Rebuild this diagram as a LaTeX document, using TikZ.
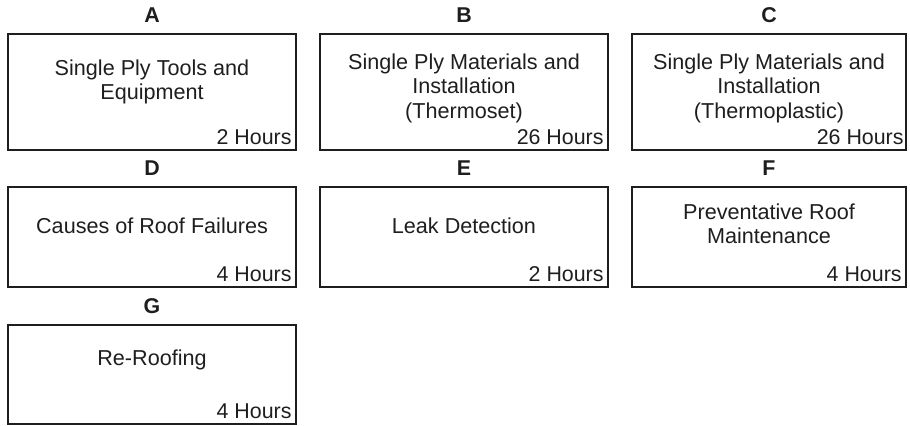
\documentclass[tikz,border=0pt]{standalone}
\usepackage{fontspec}
\setmainfont{Liberation Sans}
\usetikzlibrary{positioning}
\definecolor{inkgray}{HTML}{1E1E1E}

\begin{document}
\begin{tikzpicture}[
    x=0.5pt, y=-0.5pt,
    course/.style={
        rectangle, draw=inkgray, line width=1pt,
        minimum width=144pt, inner sep=0pt,
        anchor=north west
    },
    letter/.style={font=\fontsize{10.7}{12}\selectfont\bfseries, text=inkgray, inner sep=0pt},
    topic/.style={font=\fontsize{10.8}{12.25}\selectfont, text=inkgray, align=center, inner sep=0pt},
    hours/.style={font=\fontsize{10.7}{12}\selectfont, text=inkgray, inner sep=0pt, anchor=south east},
]
\useasboundingbox (0,0) rectangle (910,425);

% Reihe 1
\node[course, minimum height=58pt] (boxA) at (7,33) {};
\node[course, minimum height=58pt] (boxB) at (319,33) {};
\node[course, minimum height=58pt, minimum width=137pt] (boxC) at (631,33) {};

% Reihe 2
\node[course, minimum height=50pt] (boxD) at (7,186) {};
\node[course, minimum height=50pt] (boxE) at (319,186) {};
\node[course, minimum height=50pt, minimum width=137pt] (boxF) at (631,186) {};

% Reihe 3
\node[course, minimum height=49.5pt] (boxG) at (7,324) {};

% Buchstaben
\node[letter, above=5pt of boxA] (letA) {A};
\node[letter, above=5pt of boxB] (letB) {B};
\node[letter, above=5pt of boxC] (letC) {C};
\node[letter, above=5pt of boxD] (letD) {D};
\node[letter, above=5pt of boxE] (letE) {E};
\node[letter, above=5pt of boxF] (letF) {F};
\node[letter, above=5pt of boxG] (letG) {G};

% Titel
\node[topic, below=13pt of boxA.north] (topA) {Single Ply Tools and\\Equipment};
\node[topic, below=10pt of boxB.north] (topB)
    {Single Ply Materials and\\Installation\\(Thermoset)};
\node[topic, below=10pt of boxC.north] (topC)
    {Single Ply Materials and\\Installation\\(Thermoplastic)};
\node[topic, below=15.5pt of boxD.north] (topD) {Causes of Roof Failures};
\node[topic, below=15.5pt of boxE.north] (topE) {Leak Detection};
\node[topic, below=8.5pt of boxF.north] (topF) {Preventative Roof\\Maintenance};
\node[topic, below=12.5pt of boxG.north] (topG) {Re-Roofing};

% Stunden
\node[hours] (hrsA) at ([xshift=-2.5pt, yshift=3pt]boxA.south east) {2 Hours};
\node[hours] (hrsB) at ([xshift=-2.5pt, yshift=3pt]boxB.south east) {26 Hours};
\node[hours] (hrsC) at ([xshift=-1.5pt, yshift=3pt]boxC.south east) {26 Hours};
\node[hours] (hrsD) at ([xshift=-2.5pt, yshift=3pt]boxD.south east) {4 Hours};
\node[hours] (hrsE) at ([xshift=-2.5pt, yshift=3pt]boxE.south east) {2 Hours};
\node[hours] (hrsF) at ([xshift=-2.5pt, yshift=3pt]boxF.south east) {4 Hours};
\node[hours] (hrsG) at ([xshift=-2.5pt, yshift=3pt]boxG.south east) {4 Hours};
\end{tikzpicture}
\end{document}
